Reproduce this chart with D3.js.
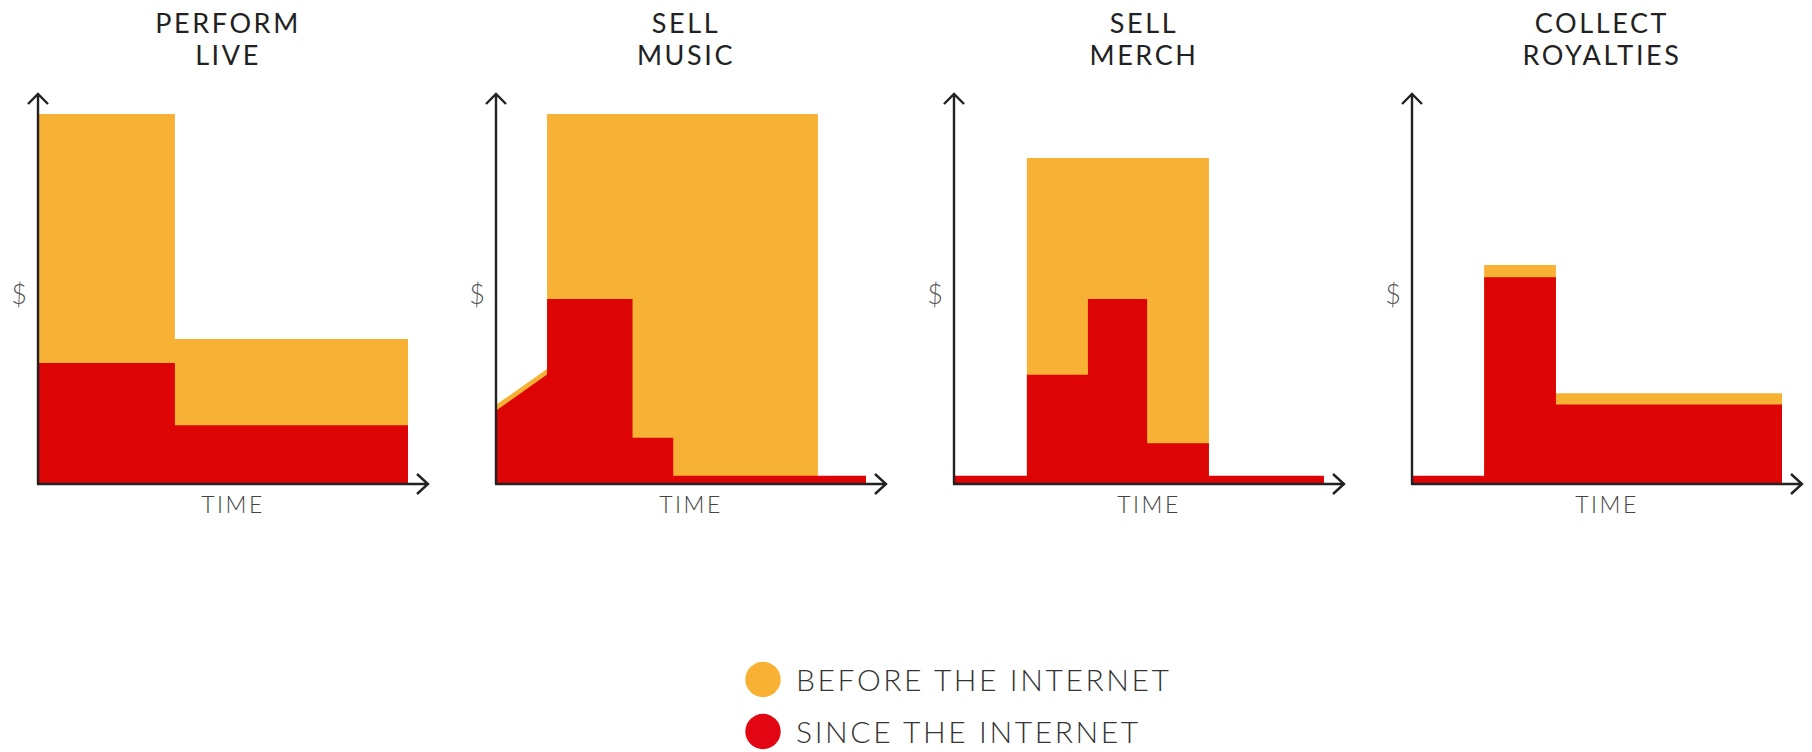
<!DOCTYPE html>
<html>
<head>
<meta charset="utf-8">
<script src="https://cdn.jsdelivr.net/npm/d3@7"></script>
<style>
  body { margin: 0; background: #fff; }
  svg text { font-family: Lato, "Open Sans", sans-serif; }
</style>
</head>
<body>
<div id="chart"></div>
<script>
// panel titles, two lines each
var titles = [["PERFORM", "LIVE"], ["SELL", "MUSIC"], ["SELL", "MERCH"], ["COLLECT", "ROYALTIES"]];

// [time, $] points, time and $ both on a 0-100 scale
var beforeValues = [
  [[0, 100], [37, 100], [37, 39.2], [100, 39.2]],
  [[0, 21.4], [13.8, 31.1], [13.8, 100], [87, 100], [87, 0], [100, 0]],
  [[0, 0], [19.7, 0], [19.7, 88.1], [68.9, 88.1], [68.9, 0], [100, 0]],
  [[0, 0], [19.5, 0], [19.5, 59.2], [38.9, 59.2], [38.9, 24.5], [100, 24.5]]
];
var sinceValues = [
  [[0, 32.7], [37, 32.7], [37, 15.9], [100, 15.9]],
  [[0, 19.8], [13.8, 29.6], [13.8, 50], [36.9, 50], [36.9, 12.5], [47.9, 12.5], [47.9, 2.2], [100, 2.2]],
  [[0, 2.2], [19.7, 2.2], [19.7, 29.5], [36.2, 29.5], [36.2, 50], [52.2, 50], [52.2, 11], [68.9, 11], [68.9, 2.2], [100, 2.2]],
  [[0, 2.2], [19.5, 2.2], [19.5, 55.9], [38.9, 55.9], [38.9, 21.5], [100, 21.5]]
];

var legendLabels = ["BEFORE THE INTERNET", "SINCE THE INTERNET"];
var colors = ["#F7B135", "#DC0404"];
var legendColors = ["#F8B133", "#E20613"];

var width = 1812, height = 752;
var size = 370;

var svg = d3.select("#chart").append("svg")
  .attr("width", width)
  .attr("height", height);

var x = d3.scaleLinear().domain([0, 100]).range([0, size]);
var y = d3.scaleLinear().domain([0, 100]).range([size, 0]);

var area = d3.area()
  .x(function(d) { return x(d[0]); })
  .y0(y(0))
  .y1(function(d) { return y(d[1]); });

titles.forEach(function(t, i) {
  var g = svg.append("g").attr("transform", "translate(" + (38 + i * 458) + ",114)");

  g.append("path").attr("d", area(beforeValues[i])).attr("fill", colors[0]);
  g.append("path").attr("d", area(sinceValues[i])).attr("fill", colors[1]);

  // axes with open arrowheads
  var top = -20, right = size + 20;
  g.append("path")
    .attr("d", "M0," + y(0) + "V" + top + "M-10," + (top + 10) + "L0," + top + "L10," + (top + 10))
    .attr("fill", "none").attr("stroke", "#222").attr("stroke-width", 2.4);
  g.append("path")
    .attr("d", "M-1," + y(0) + "H" + right + "M" + (right - 11) + "," + (y(0) - 10) + "L" + right + "," + y(0) + "L" + (right - 11) + "," + (y(0) + 10))
    .attr("fill", "none").attr("stroke", "#222").attr("stroke-width", 2.4);

  g.selectAll(".title").data(t).enter().append("text")
    .attr("x", 190)
    .attr("y", function(d, j) { return -81 + j * 32; })
    .attr("text-anchor", "middle")
    .attr("font-size", 27)
    .attr("letter-spacing", 2.6)
    .attr("fill", "#222")
    .text(function(d) { return d; });

  g.append("text")
    .attr("x", 195).attr("y", size + 29)
    .attr("text-anchor", "middle")
    .attr("font-size", 23).attr("font-weight", 300)
    .attr("letter-spacing", 2.5)
    .attr("fill", "#444")
    .text("TIME");

  g.append("text")
    .attr("x", -19).attr("y", 190)
    .attr("text-anchor", "middle")
    .attr("font-size", 27).attr("font-weight", 300)
    .attr("fill", "#555")
    .text("$");
});

var legend = svg.selectAll(".legend").data(legendLabels).enter().append("g")
  .attr("transform", function(d, i) { return "translate(763," + (679.5 + i * 52) + ")"; });

legend.append("circle")
  .attr("r", 17.7)
  .attr("fill", function(d, i) { return legendColors[i]; });

legend.append("text")
  .attr("x", 33).attr("y", 11)
  .attr("font-size", 30).attr("font-weight", 300)
  .attr("letter-spacing", 2.6)
  .attr("fill", "#333")
  .text(function(d) { return d; });
</script>
</body>
</html>
